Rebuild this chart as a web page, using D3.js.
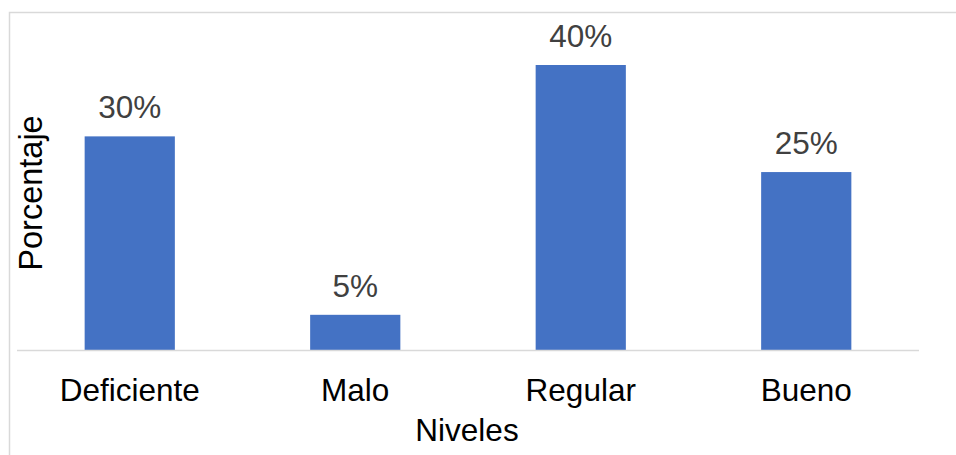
<!DOCTYPE html>
<html>
<head>
<meta charset="utf-8">
<script src="https://cdn.jsdelivr.net/npm/d3@7"></script>
<style>
  html, body { margin: 0; padding: 0; background: #fff; }
  svg { display: block; font-family: "Liberation Sans", Arial, sans-serif; }
</style>
</head>
<body>
<svg id="chart" width="956" height="455"></svg>
<script>
// Distribución por niveles
const categories = ["Deficiente", "Malo", "Regular", "Bueno"];
const values = [30, 5, 40, 25];
const valueLabels = ["30%", "5%", "40%", "25%"];

const svg = d3.select("#chart");
const plot = { left: 17, right: 919, top: 12, bottom: 350.5 };
const fontSize = 31.5;

// outer frame (partially cropped by the canvas)
svg.append("rect")
  .attr("x", 9.5).attr("y", 12.5)
  .attr("width", 1000).attr("height", 500)
  .attr("fill", "none")
  .attr("stroke", "#d9d9d9")
  .attr("stroke-width", 1.5);

const x = d3.scaleBand()
  .domain(categories)
  .range([plot.left, plot.right])
  .paddingInner(0.6)
  .paddingOuter(0.3);

const y = d3.scaleLinear()
  .domain([0, 40])
  .range([plot.bottom, 65]);

const data = categories.map((c, i) => ({ c, v: values[i], label: valueLabels[i] }));

svg.append("g").selectAll("rect")
  .data(data)
  .join("rect")
  .attr("x", d => x(d.c))
  .attr("y", d => y(d.v))
  .attr("width", x.bandwidth())
  .attr("height", d => y(0) - y(d.v))
  .attr("fill", "#4472C4");

// value labels above bars
svg.append("g").selectAll("text")
  .data(data)
  .join("text")
  .attr("x", d => x(d.c) + x.bandwidth() / 2)
  .attr("y", d => y(d.v) - 18)
  .attr("text-anchor", "middle")
  .attr("font-size", fontSize)
  .attr("fill", "#404040")
  .text(d => d.label);

// category axis
const xAxis = svg.append("g")
  .attr("transform", `translate(0,${plot.bottom})`)
  .call(d3.axisBottom(x).tickSize(0).tickPadding(0));
xAxis.select(".domain")
  .attr("stroke", "#d9d9d9")
  .attr("stroke-width", 1.5)
  .attr("d", `M${plot.left},0H${plot.right}`);
xAxis.selectAll(".tick text")
  .attr("font-size", fontSize)
  .attr("font-family", "Liberation Sans, Arial, sans-serif")
  .attr("fill", "#000")
  .attr("dy", null)
  .attr("y", 50);

// axis titles
svg.append("text")
  .attr("x", 467).attr("y", 441)
  .attr("text-anchor", "middle")
  .attr("font-size", fontSize)
  .attr("fill", "#000")
  .text("Niveles");

svg.append("text")
  .attr("transform", "translate(42,193) rotate(-90)")
  .attr("text-anchor", "middle")
  .attr("font-size", 32.5)
  .attr("fill", "#000")
  .text("Porcentaje");
</script>
</body>
</html>
